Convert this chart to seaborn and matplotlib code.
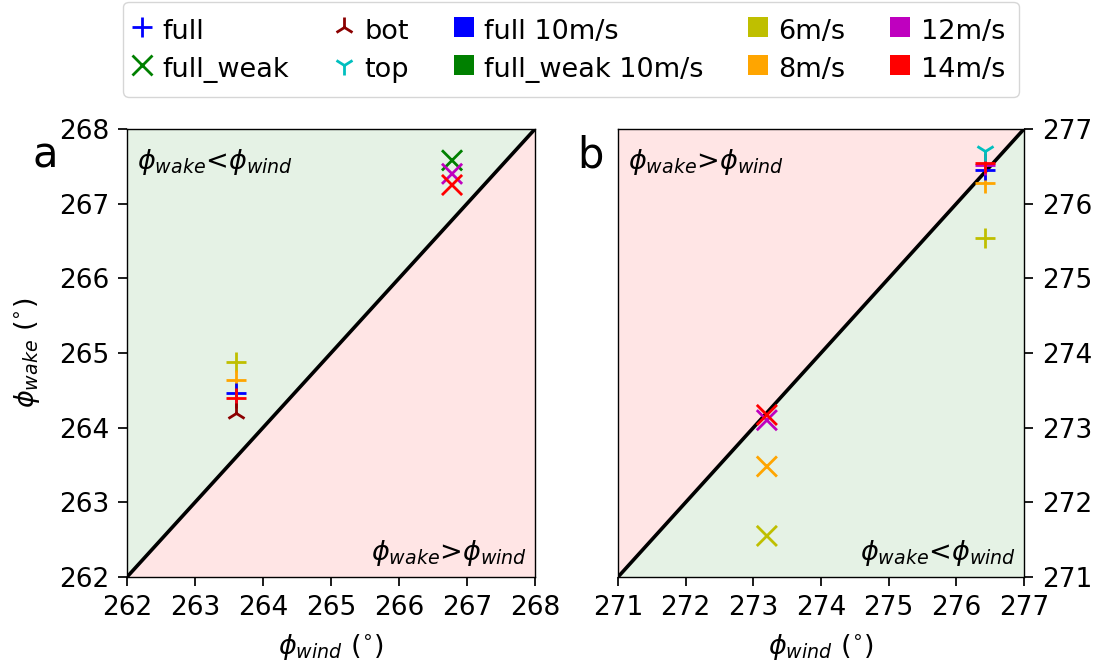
import numpy as np
import pandas as pd
import matplotlib
matplotlib.use("Agg")
import matplotlib.pyplot as plt
from matplotlib.lines import Line2D
import seaborn as sns

# ---------------- data ----------------
# panel a
a_full_speed = ["6m/s", "8m/s", "full 10m/s", "14m/s"]
a_full_wind = [263.6, 263.6, 263.6, 263.6]
a_full_wake = [264.88, 264.64, 264.46, 264.40]
a_weak_speed = ["8m/s", "full_weak 10m/s", "12m/s", "14m/s"]
a_weak_wind = [266.78, 266.78, 266.78, 266.78]
a_weak_wake = [268.16, 267.58, 267.40, 267.25]
a_bot_wind = [263.6]
a_bot_wake = [264.20]

# panel b
b_full_speed = ["6m/s", "8m/s", "full 10m/s", "12m/s", "14m/s"]
b_full_wind = [276.42, 276.42, 276.42, 276.42, 276.42]
b_full_wake = [275.54, 276.28, 276.45, 276.52, 276.55]
b_weak_speed = ["6m/s", "8m/s", "12m/s", "14m/s"]
b_weak_wind = [273.2, 273.2, 273.2, 273.2]
b_weak_wake = [271.55, 272.48, 273.10, 273.17]
b_top_wind = [276.42]
b_top_wake = [276.70]

a_lim = [262, 268]
b_lim = [271, 277]

colour_keys = ["full 10m/s", "full_weak 10m/s", "6m/s", "8m/s", "12m/s", "14m/s", "bot", "top"]
colour_vals = ["#0000ff", "#008000", "#bfbf00", "#ffa500", "#bf00bf", "#ff0000", "#8b0000", "#00bfbf"]
palette = dict(zip(colour_keys, colour_vals))

rows = []
def add(panel, case, keys, xs, ys):
    for k, x, y in zip(keys, xs, ys):
        rows.append(dict(panel=panel, case=case, key=k, wind=x, wake=y))

add("a", "full", a_full_speed, a_full_wind, a_full_wake)
add("a", "full_weak", a_weak_speed, a_weak_wind, a_weak_wake)
add("a", "bot", ["bot"], a_bot_wind, a_bot_wake)
add("b", "full", b_full_speed, b_full_wind, b_full_wake)
add("b", "full_weak", b_weak_speed, b_weak_wind, b_weak_wake)
add("b", "top", ["top"], b_top_wind, b_top_wake)
df = pd.DataFrame(rows)

markers = {"full": "+", "full_weak": "x", "bot": "2", "top": "1"}

FS = 19.5
# ---------------- style ----------------
sns.set_theme(style="ticks", color_codes=False, rc={
    "font.size": FS, "axes.labelsize": FS, "xtick.labelsize": 19, "ytick.labelsize": 19,
    "xtick.major.size": 6.5, "ytick.major.size": 6.5, "xtick.major.pad": 6.5,
    "ytick.major.pad": 6.5, "axes.linewidth": 1.0, "axes.labelpad": 8,
    "axes.edgecolor": "black", "xtick.color": "black", "ytick.color": "black",
    "text.color": "black", "axes.labelcolor": "black",
})
plt.rcParams["font.family"] = ["DejaVu Sans"]
plt.rcParams["mathtext.fontset"] = "dejavusans"

fig = plt.figure(figsize=(10.99, 6.66), dpi=100)
ax_a = fig.add_axes([127 / 1099, 1 - 577 / 666, 408 / 1099, 448 / 666])
ax_b = fig.add_axes([618 / 1099, 1 - 577 / 666, 406 / 1099, 448 / 666])


def shade(ax, lim, upper, lower):
    x = np.array(lim, dtype=float)
    ax.fill_between(x, x, lim[1], color=upper, alpha=0.1, lw=0, zorder=0)
    ax.fill_between(x, lim[0], x, color=lower, alpha=0.1, lw=0, zorder=0)
    ax.plot(x, x, color="black", lw=2.6, zorder=1)
    ax.set_xlim(lim)
    ax.set_ylim(lim)


shade(ax_a, a_lim, "green", "red")
shade(ax_b, b_lim, "red", "green")

for panel, ax in (("a", ax_a), ("b", ax_b)):
    sub = df[df.panel == panel]
    for case in ["full", "full_weak", "bot", "top"]:
        s = sub[sub.case == case]
        if s.empty:
            continue
        sns.scatterplot(data=s, x="wind", y="wake", hue="key", palette=palette,
                        marker=markers[case], s=210, linewidth=2.0, legend=False,
                        ax=ax, zorder=3)
    ax.set_xticks(range(int(ax.get_xlim()[0]), int(ax.get_xlim()[1]) + 1))
    ax.set_yticks(range(int(ax.get_ylim()[0]), int(ax.get_ylim()[1]) + 1))
    ax.set_xlabel(r"$\phi_{wind}$ ($^{\circ}$)")

ax_a.set_ylabel(r"$\phi_{wake}$ ($^{\circ}$)", labelpad=12)
ax_b.set_ylabel("")
ax_b.yaxis.tick_right()
ax_b.yaxis.set_label_position("right")

ax_a.text(0.025, 0.96, r"$\phi_{wake}$<$\phi_{wind}$", transform=ax_a.transAxes,
          ha="left", va="top", fontsize=FS)
ax_a.text(0.98, 0.02, r"$\phi_{wake}$>$\phi_{wind}$", transform=ax_a.transAxes,
          ha="right", va="bottom", fontsize=FS)
ax_b.text(0.025, 0.96, r"$\phi_{wake}$>$\phi_{wind}$", transform=ax_b.transAxes,
          ha="left", va="top", fontsize=FS)
ax_b.text(0.98, 0.02, r"$\phi_{wake}$<$\phi_{wind}$", transform=ax_b.transAxes,
          ha="right", va="bottom", fontsize=FS)

fig.text(45 / 1099, 1 - 155 / 666, "a", fontsize=30, ha="center", va="center")
fig.text(590 / 1099, 1 - 155 / 666, "b", fontsize=30, ha="center", va="center")

# legend
def mk(m, key):
    return Line2D([], [], ls="none", marker=m, color=palette[key], ms=15, mew=2)

handles = [
    mk("+", "full 10m/s"), mk("x", "full_weak 10m/s"),
    mk("2", "bot"), mk("1", "top"),
    mk("s", "full 10m/s"), mk("s", "full_weak 10m/s"),
    mk("s", "6m/s"), mk("s", "8m/s"),
    mk("s", "12m/s"), mk("s", "14m/s"),
]
for h in handles[4:]:
    h.set_markeredgewidth(0)
labels = ["full", "full_weak", "bot", "top", "full 10m/s", "full_weak 10m/s",
          "6m/s", "8m/s", "12m/s", "14m/s"]
fig.legend(handles, labels, ncol=5, loc="upper center", bbox_to_anchor=(571 / 1099, 0.997),
           fontsize=FS, handlelength=0.4, handleheight=1.3, handletextpad=0.55,
           columnspacing=1.82, borderaxespad=0.0, frameon=True, borderpad=0.5,
           labelspacing=0.3)

fig.savefig("out.png", dpi=100)
